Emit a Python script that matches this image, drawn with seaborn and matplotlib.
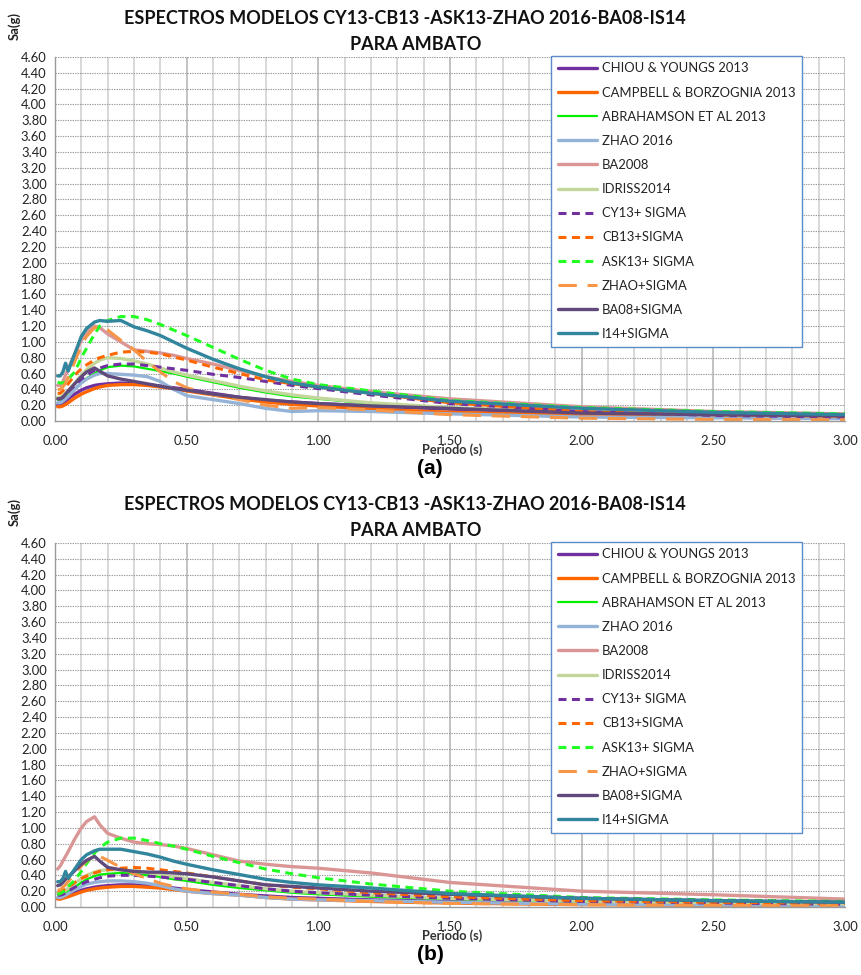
import matplotlib
matplotlib.use("Agg")
import matplotlib.pyplot as plt
import seaborn as sns
import numpy as np

sns.set_theme(style="white")
plt.rcParams['font.family'] = ['Lato', 'DejaVu Sans']

# ---------------- data ----------------
PERIODS = [0.01, 0.02, 0.03, 0.04, 0.05, 0.075, 0.1, 0.12, 0.15, 0.17, 0.2, 0.25, 0.3,
           0.35, 0.4, 0.45, 0.5, 0.6, 0.7, 0.8, 0.9, 1.0, 1.2, 1.5, 2.0, 2.5, 3.0]

SERIES_NAMES = ["CHIOU & YOUNGS 2013", "CAMPBELL & BORZOGNIA 2013", "ABRAHAMSON ET AL 2013",
                "ZHAO 2016", "BA2008", "IDRISS2014", "CY13+ SIGMA", "CB13+SIGMA",
                "ASK13+ SIGMA", "ZHAO+SIGMA", "BA08+SIGMA", "I14+SIGMA"]

# chart (a)
a_cy13 = [0.20, 0.20, 0.22, 0.25, 0.28, 0.34, 0.39, 0.42, 0.45, 0.46, 0.47, 0.48, 0.47,
          0.46, 0.44, 0.42, 0.40, 0.35, 0.30, 0.26, 0.24, 0.22, 0.19, 0.15, 0.10, 0.07, 0.05]
a_cb13 = [0.18, 0.18, 0.19, 0.21, 0.23, 0.29, 0.34, 0.37, 0.41, 0.43, 0.45, 0.46, 0.46,
          0.45, 0.43, 0.41, 0.38, 0.33, 0.28, 0.24, 0.21, 0.19, 0.15, 0.11, 0.07, 0.05, 0.035]
a_ask13 = [0.27, 0.27, 0.28, 0.30, 0.33, 0.40, 0.48, 0.54, 0.60, 0.64, 0.68, 0.70, 0.69,
           0.66, 0.63, 0.60, 0.56, 0.49, 0.42, 0.36, 0.31, 0.28, 0.22, 0.16, 0.11, 0.08, 0.06]
a_zhao = [0.23, 0.23, 0.25, 0.28, 0.31, 0.40, 0.48, 0.53, 0.58, 0.60, 0.60, 0.59, 0.58,
          0.56, 0.50, 0.40, 0.32, 0.27, 0.22, 0.16, 0.12, 0.13, 0.12, 0.09, 0.05, 0.04, 0.03]
a_ba08 = [0.45, 0.45, 0.50, 0.58, 0.66, 0.85, 1.02, 1.12, 1.20, 1.18, 1.10, 1.00, 0.90,
          0.88, 0.86, 0.83, 0.79, 0.72, 0.64, 0.56, 0.50, 0.45, 0.37, 0.28, 0.18, 0.12, 0.09]
a_i14 = [0.30, 0.30, 0.32, 0.35, 0.38, 0.48, 0.58, 0.65, 0.73, 0.77, 0.80, 0.79, 0.76,
         0.72, 0.67, 0.62, 0.58, 0.51, 0.44, 0.38, 0.33, 0.29, 0.23, 0.17, 0.11, 0.08, 0.06]
a_cy13s = [0.28, 0.28, 0.30, 0.33, 0.37, 0.45, 0.53, 0.58, 0.64, 0.67, 0.70, 0.72, 0.72,
           0.70, 0.68, 0.66, 0.64, 0.59, 0.55, 0.50, 0.45, 0.41, 0.33, 0.22, 0.12, 0.07, 0.05]
a_cb13s = [0.35, 0.35, 0.38, 0.42, 0.47, 0.58, 0.66, 0.71, 0.77, 0.80, 0.83, 0.87, 0.88,
           0.87, 0.85, 0.81, 0.77, 0.68, 0.60, 0.52, 0.47, 0.43, 0.35, 0.23, 0.12, 0.08, 0.06]
a_ask13s = [0.49, 0.48, 0.48, 0.50, 0.53, 0.62, 0.80, 0.92, 1.10, 1.20, 1.27, 1.32, 1.32,
            1.28, 1.22, 1.15, 1.08, 0.93, 0.78, 0.64, 0.53, 0.46, 0.38, 0.26, 0.17, 0.12, 0.09]
a_zhaos = [0.40, 0.40, 0.43, 0.48, 0.55, 0.75, 0.95, 1.07, 1.18, 1.19, 1.15, 1.02, 0.90,
           0.75, 0.62, 0.50, 0.42, 0.33, 0.27, 0.20, 0.16, 0.17, 0.14, 0.08, 0.035, 0.02, 0.015]
a_ba08s = [0.28, 0.28, 0.30, 0.34, 0.38, 0.47, 0.56, 0.62, 0.67, 0.63, 0.57, 0.53, 0.50,
           0.47, 0.44, 0.41, 0.39, 0.34, 0.30, 0.27, 0.24, 0.22, 0.19, 0.16, 0.10, 0.08, 0.065]
a_i14s = [0.57, 0.57, 0.62, 0.73, 0.63, 0.85, 1.07, 1.17, 1.25, 1.27, 1.26, 1.27, 1.19,
          1.14, 1.08, 1.00, 0.92, 0.78, 0.66, 0.56, 0.48, 0.43, 0.35, 0.25, 0.16, 0.11, 0.08]

# chart (b)
b_cy13 = [0.11, 0.11, 0.12, 0.13, 0.15, 0.18, 0.21, 0.23, 0.25, 0.26, 0.27, 0.28, 0.28,
          0.27, 0.26, 0.24, 0.22, 0.19, 0.16, 0.14, 0.12, 0.11, 0.09, 0.07, 0.045, 0.035, 0.025]
b_cb13 = [0.10, 0.10, 0.11, 0.12, 0.13, 0.16, 0.19, 0.21, 0.23, 0.24, 0.25, 0.26, 0.26,
          0.25, 0.24, 0.22, 0.20, 0.17, 0.15, 0.12, 0.10, 0.09, 0.07, 0.05, 0.03, 0.02, 0.015]
b_ask13 = [0.16, 0.16, 0.17, 0.18, 0.20, 0.25, 0.31, 0.35, 0.39, 0.41, 0.42, 0.43, 0.42,
           0.40, 0.38, 0.35, 0.33, 0.28, 0.24, 0.21, 0.18, 0.16, 0.13, 0.10, 0.065, 0.045, 0.035]
b_zhao = [0.12, 0.12, 0.13, 0.15, 0.17, 0.22, 0.26, 0.29, 0.31, 0.32, 0.33, 0.33, 0.32,
          0.30, 0.27, 0.23, 0.20, 0.17, 0.15, 0.12, 0.10, 0.09, 0.08, 0.06, 0.035, 0.025, 0.02]
b_ba08 = [0.48, 0.52, 0.58, 0.64, 0.70, 0.86, 1.00, 1.08, 1.14, 1.04, 0.93, 0.87, 0.82,
          0.80, 0.79, 0.77, 0.74, 0.66, 0.58, 0.54, 0.51, 0.49, 0.43, 0.31, 0.20, 0.155, 0.10]
b_i14 = [0.18, 0.18, 0.19, 0.21, 0.24, 0.30, 0.36, 0.40, 0.44, 0.46, 0.47, 0.47, 0.46,
         0.44, 0.41, 0.38, 0.36, 0.31, 0.27, 0.23, 0.20, 0.18, 0.15, 0.11, 0.075, 0.055, 0.04]
b_cy13s = [0.15, 0.15, 0.16, 0.18, 0.20, 0.25, 0.29, 0.32, 0.35, 0.37, 0.39, 0.40, 0.40,
           0.39, 0.38, 0.36, 0.35, 0.31, 0.27, 0.23, 0.20, 0.18, 0.15, 0.11, 0.07, 0.05, 0.035]
b_cb13s = [0.20, 0.20, 0.21, 0.23, 0.25, 0.31, 0.36, 0.39, 0.43, 0.45, 0.47, 0.49, 0.50,
           0.49, 0.47, 0.45, 0.43, 0.38, 0.33, 0.28, 0.25, 0.23, 0.18, 0.13, 0.08, 0.06, 0.045]
b_ask13s = [0.16, 0.17, 0.19, 0.22, 0.26, 0.34, 0.45, 0.55, 0.68, 0.75, 0.82, 0.87, 0.87,
            0.84, 0.80, 0.77, 0.73, 0.64, 0.56, 0.48, 0.42, 0.37, 0.29, 0.20, 0.12, 0.09, 0.07]
b_zhaos = [0.21, 0.22, 0.25, 0.28, 0.32, 0.42, 0.52, 0.58, 0.65, 0.64, 0.59, 0.50, 0.42,
           0.36, 0.30, 0.26, 0.23, 0.19, 0.16, 0.13, 0.11, 0.10, 0.07, 0.045, 0.03, 0.02, 0.015]
b_ba08s = [0.27, 0.28, 0.31, 0.35, 0.38, 0.46, 0.54, 0.59, 0.64, 0.58, 0.50, 0.47, 0.45,
           0.44, 0.44, 0.43, 0.42, 0.38, 0.33, 0.28, 0.26, 0.24, 0.20, 0.16, 0.11, 0.08, 0.06]
b_i14s = [0.32, 0.32, 0.36, 0.45, 0.36, 0.48, 0.60, 0.66, 0.71, 0.73, 0.73, 0.73, 0.70,
          0.67, 0.63, 0.58, 0.54, 0.47, 0.41, 0.35, 0.31, 0.28, 0.24, 0.17, 0.11, 0.08, 0.06]

CHART_A = [a_cy13, a_cb13, a_ask13, a_zhao, a_ba08, a_i14,
           a_cy13s, a_cb13s, a_ask13s, a_zhaos, a_ba08s, a_i14s]
CHART_B = [b_cy13, b_cb13, b_ask13, b_zhao, b_ba08, b_i14,
           b_cy13s, b_cb13s, b_ask13s, b_zhaos, b_ba08s, b_i14s]

Y_TICKS = [round(0.2 * i, 2) for i in range(24)]
X_TICKS = [0.0, 0.5, 1.0, 1.5, 2.0, 2.5, 3.0]

TITLE1 = "ESPECTROS MODELOS CY13-CB13 -ASK13-ZHAO 2016-BA08-IS14"
TITLE2 = "PARA AMBATO"

# ---------------- styles ----------------
COLORS = ["#7030A0", "#FF6600", "#00EE00", "#95B3D7", "#D99694", "#C3D69B",
          "#7030A0", "#FF6600", "#22FF22", "#F79646", "#604A7B", "#31859C"]
SHORT = (0, (2.6, 1.8))
LONG = (0, (6, 3.5))
STYLES = ["-", "-", "-", "-", "-", "-", SHORT, SHORT, SHORT, LONG, "-", "-"]
WIDTHS = [2.4, 2.4, 1.6, 2.4, 2.4, 2.4, 2.2, 2.2, 2.2, 2.2, 2.4, 2.4]

W, H = 861, 975
fig = plt.figure(figsize=(W / 100, H / 100), dpi=100)

def fx(px):
    return px / W

def fy(py):
    return 1 - py / H

def draw(ax, data):
    for name, vals, c, ls, lw in zip(SERIES_NAMES, data, COLORS, STYLES, WIDTHS):
        sns.lineplot(x=PERIODS, y=vals, ax=ax, color=c, linewidth=lw,
                     linestyle=ls, label=name, solid_capstyle='round',
                     dash_capstyle='butt')
    ax.set_xlim(0, 3.0)
    ax.set_ylim(0, 4.6)
    ax.set_yticks(Y_TICKS)
    ax.set_yticklabels([f"{v:.2f}" for v in Y_TICKS], fontsize=9.4, color='#222222')
    ax.set_xticks(X_TICKS)
    ax.set_xticklabels([f"{v:.2f}" for v in X_TICKS], fontsize=9.4, color='#222222')
    ax.set_xticks(np.arange(0, 3.01, 0.1), minor=True)
    ax.tick_params(axis='x', which='major', length=4, color='#868686', pad=6)
    ax.tick_params(axis='x', which='minor', length=0)
    ax.tick_params(axis='y', which='major', length=4, color='#868686', pad=2)
    ax.grid(False)
    for xv in np.arange(0.1, 3.01, 0.1):
        major = abs(round(xv * 10) % 5) == 0
        ax.axvline(xv, color='#BDBDBD' if major else '#D6D6D6', lw=1.3, zorder=0.5)
    for yv in Y_TICKS[1:]:
        ax.axhline(yv, color='#9A9A9A', lw=0.8, ls=(0, (1.2, 1.0)), zorder=0.5)
    for s in ['top', 'right']:
        ax.spines[s].set_visible(False)
    ax.spines['left'].set_color('#9A9A9A')
    ax.spines['bottom'].set_color('#9A9A9A')
    ax.spines['left'].set_linewidth(1.0)
    ax.spines['bottom'].set_linewidth(1.0)
    ax.set_xlabel("")
    ax.set_ylabel("")
    leg = ax.legend(loc='upper left', bbox_to_anchor=(0.628, 1.003, 0.318, 0.0),
                    mode='expand', borderaxespad=0, fontsize=9.4,
                    handlelength=3.0, handletextpad=0.4, labelspacing=0.93,
                    borderpad=0.5, frameon=True, fancybox=False, framealpha=1)
    leg.get_frame().set_edgecolor('#5B8BC9')
    leg.get_frame().set_linewidth(1.0)
    for t in leg.get_texts():
        t.set_color('#222222')

ax1 = fig.add_axes([fx(55), fy(421), fx(790), 364 / H])
ax2 = fig.add_axes([fx(55), fy(907), fx(790), 364 / H])
draw(ax1, CHART_A)
draw(ax2, CHART_B)

for off, cap in [(0, "(a)"), (486, "(b)")]:
    fig.text(fx(405), fy(18 + off), TITLE1, ha='center', va='center',
             fontsize=13, fontweight='bold', color='#111111')
    fig.text(fx(416), fy(44 + off), TITLE2, ha='center', va='center',
             fontsize=13, fontweight='bold', color='#111111')
    fig.text(fx(14), fy(26 + off), "Sa(g)", rotation=90, ha='center', va='center',
             fontsize=9.4, fontweight='bold', color='#222222')
    fig.text(fx(452), fy(450 + off), "Periodo (s)", ha='center', va='center',
             fontsize=9.2, fontweight='bold', color='#333333')
    fig.text(fx(430), fy(468 + off), cap, ha='center', va='center',
             fontsize=15, fontweight='bold', color='#000000',
             family=['Liberation Sans', 'DejaVu Sans'])

fig.savefig("out.png", dpi=100)
